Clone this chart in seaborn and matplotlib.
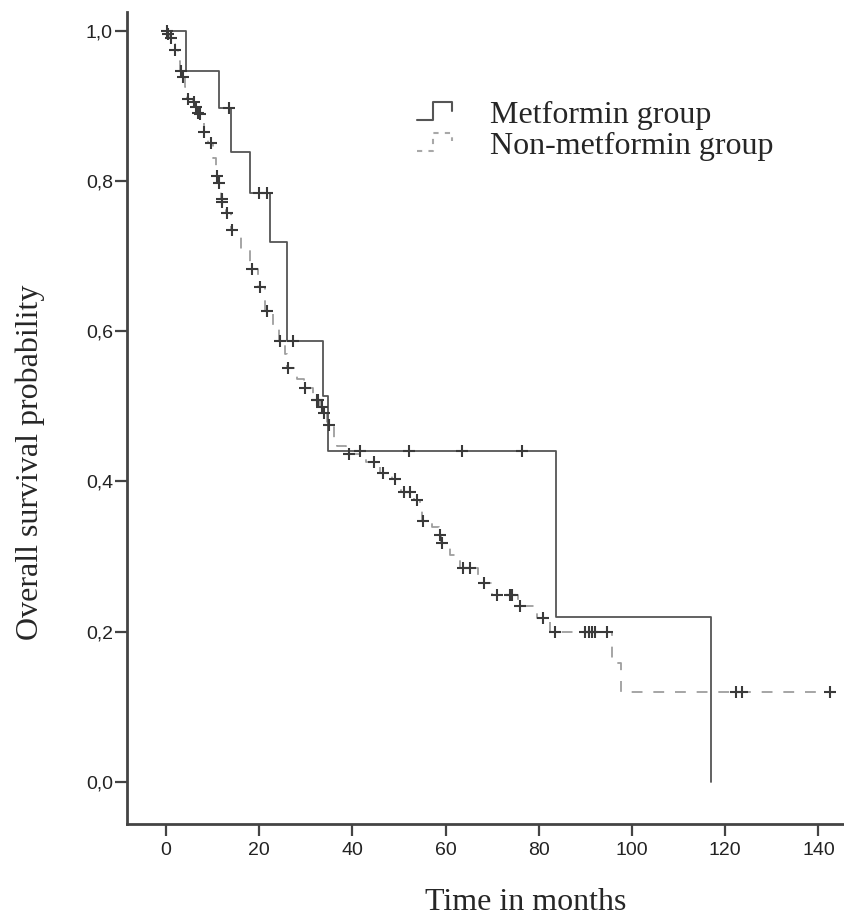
import numpy as np
import pandas as pd
import matplotlib
matplotlib.use('Agg')
import matplotlib.pyplot as plt
from matplotlib.lines import Line2D
from matplotlib.legend_handler import HandlerBase
import seaborn as sns


# Kaplan-Meier steps (time in months, survival after the step)
met_times = [0, 4.3, 11.3, 13.9, 17.9, 22.3, 26.0, 33.6, 34.8, 83.6, 117.0]
met_surv = [1.0, 0.947, 0.897, 0.839, 0.784, 0.719, 0.587, 0.514, 0.440, 0.220, 0.0]
met_censor = [13.5, 19.9, 21.6, 27.3, 41.6, 52.2, 63.4, 76.3]

non_times = [0, 0.3, 0.8, 1.5, 1.8, 2.5, 3.0, 3.4, 4.0, 4.5, 5.7, 6.2, 6.7, 7.1,
             7.8, 8.1, 9.0, 10.0, 10.6, 11.2, 11.7, 11.95, 12.8, 14.0, 16.0, 18.0,
             19.8, 21.3, 23.0, 24.2, 25.5, 26.0, 28.0, 29.5, 31.5, 33.0, 33.6,
             34.6, 36.0, 36.7, 38.5, 43.0, 46.0, 48.5, 50.5, 53.2, 54.5, 55.0,
             57.0, 58.5, 59.1, 61.0, 63.0, 67.0, 70.0, 75.5, 79.5, 82.5, 95.6,
             97.6, 142.5]
non_surv = [1.0, 0.996, 0.99, 0.982, 0.974, 0.96, 0.947, 0.938, 0.925, 0.909,
            0.905, 0.898, 0.891, 0.889, 0.877, 0.865, 0.851, 0.83, 0.807, 0.798,
            0.776, 0.772, 0.758, 0.735, 0.71, 0.683, 0.659, 0.627, 0.605, 0.587,
            0.57, 0.551, 0.537, 0.524, 0.509, 0.499, 0.491, 0.475, 0.458, 0.447,
            0.436, 0.426, 0.411, 0.403, 0.386, 0.376, 0.362, 0.348, 0.339, 0.329,
            0.318, 0.302, 0.285, 0.265, 0.249, 0.234, 0.218, 0.2, 0.159, 0.12,
            0.12]
non_censor = [0.1, 0.5, 1.1, 1.9, 3.1, 3.6, 4.8, 5.9, 6.4, 6.9, 7.3, 8.2, 9.6,
              10.9, 11.4, 11.9, 12.0, 13.0, 14.2, 18.4, 20.2, 21.7, 24.5, 26.2,
              29.8, 32.3, 32.7, 33.4, 33.8, 35.0, 39.3, 44.7, 46.5, 49.1, 51.1,
              52.4, 53.8, 55.2, 58.8, 59.3, 63.7, 65.2, 68.2, 71.0, 73.8, 74.2,
              76.0, 80.9, 83.5, 89.9, 90.8, 91.5, 92.1, 94.6, 122.4, 123.5, 142.5]

groups = ['Metformin group', 'Non-metformin group']
x_ticks = [0, 20, 40, 60, 80, 100, 120, 140]
y_ticks = [0.0, 0.2, 0.4, 0.6, 0.8, 1.0]
y_ticklabels = ['0,0', '0,2', '0,4', '0,6', '0,8', '1,0']


def surv_at(times, surv, t):
    # value of the step curve at time t (right-continuous)
    idx = np.searchsorted(times, t, side='right') - 1
    return np.asarray(surv)[idx]


class StepHandler(HandlerBase):
    # little step-shaped legend key, like the SPSS output
    def create_artists(self, legend, orig_handle, xdescent, ydescent,
                       width, height, fontsize, trans):
        x0, x1 = -xdescent, -xdescent + width
        xm = x0 + width * 0.45
        y0, y1 = -ydescent + height * 0.05, -ydescent + height * 1.0
        line = Line2D([x0, xm, xm, x1, x1], [y0, y0, y1, y1, y1 - height * 0.45],
                      transform=trans)
        line.update_from(orig_handle)
        line.set_transform(trans)
        return [line]


met_df = pd.DataFrame({'time': met_times, 'surv': met_surv})
non_df = pd.DataFrame({'time': non_times, 'surv': non_surv})
met_cens = pd.DataFrame({'time': met_censor,
                         'surv': surv_at(met_times, met_surv, met_censor)})
non_cens = pd.DataFrame({'time': non_censor,
                         'surv': surv_at(non_times, non_surv, non_censor)})

sns.set_theme(style='ticks')
plt.rcParams['font.family'] = ['Liberation Sans', 'DejaVu Sans']

fig = plt.figure(figsize=(8.44, 9.18), dpi=100)
ax = fig.add_axes([127 / 844, (918 - 824) / 918, (844 - 127) / 844, (824 - 12) / 918])

line_met = '#555555'
line_non = '#9e9e9e'
mark_col = '#3a3a3a'

sns.lineplot(data=non_df, x='time', y='surv', drawstyle='steps-post',
             estimator=None, sort=False, color=line_non, linewidth=1.3, ax=ax)
ax.lines[-1].set_dashes((6, 6))
sns.lineplot(data=met_df, x='time', y='surv', drawstyle='steps-post',
             estimator=None, sort=False, color=line_met, linewidth=1.3, ax=ax)

sns.scatterplot(data=non_cens, x='time', y='surv', marker='+', s=80,
                color=mark_col, linewidth=1.5, ax=ax, zorder=3)
sns.scatterplot(data=met_cens, x='time', y='surv', marker='+', s=80,
                color=mark_col, linewidth=1.5, ax=ax, zorder=3)

ax.set_xlim(-8.4, 145.5)
ax.set_ylim(-0.056, 1.025)
ax.set_xticks(x_ticks)
ax.set_yticks(y_ticks)
ax.set_yticklabels(y_ticklabels)
ax.tick_params(axis='both', labelsize=14, length=8.6, width=1.6, color='#444444',
               labelcolor='#222222')
ax.tick_params(axis='x', pad=4.5)
ax.tick_params(axis='y', pad=1.5)

sns.despine(ax=ax)
for side in ['left', 'bottom']:
    ax.spines[side].set_linewidth(2.0)
    ax.spines[side].set_color('#444444')

ax.set_xlabel('')
ax.set_ylabel('')
fig.text(30 / 844, 1 - 462 / 918, 'Overall survival probability', rotation=90,
         ha='center', va='center', fontsize=23, family='Liberation Serif')
fig.text(526 / 844, 1 - 902 / 918, 'Time in months', ha='center', va='center',
         fontsize=23, family='Liberation Serif')

handles = [
    Line2D([], [], color=line_met, linewidth=1.5),
    Line2D([], [], color='#a8a8a8', linewidth=1.5, dashes=(2.5, 3)),
]
leg = ax.legend(handles, groups,
                loc='upper left', bbox_to_anchor=(417 / 844, 1 - 101 / 918),
                bbox_transform=fig.transFigure, frameon=False,
                prop={'family': 'Liberation Serif', 'size': 23},
                handler_map={Line2D: StepHandler()},
                handlelength=1.1, handleheight=0.55, handletextpad=1.2,
                labelspacing=0.05, borderpad=0, borderaxespad=0)

fig.savefig('out.png', dpi=100)
